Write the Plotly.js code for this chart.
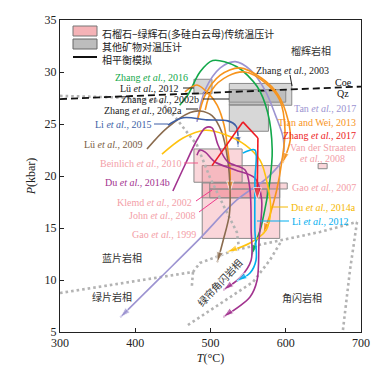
<!DOCTYPE html>
<html><head><meta charset="utf-8">
<script src="https://cdn.plot.ly/plotly-3.0.1.min.js"></script>
<style>html,body{margin:0;padding:0;background:#fff}#chart{width:385px;height:370px}</style>
</head><body><div id="chart"></div>
<script>
// ---------- data ----------
// garnet–omphacite (phengite) thermobarometry boxes [T min, T max, P min, P max]
const pinkNames = ['Gao 1999','Beinlich 2010','Klemd 2002','John 2008','Gao 2007','Van der Straaten 2008'];
const pinkTmin = [489, 478, 489, 499, 499, 643];
const pinkTmax = [592, 542, 592, 575, 602, 655];
const pinkPmin = [14.0, 19.4, 17.9, 17.9, 18.75, 20.7];
const pinkPmax = [21.0, 22.6, 19.33, 18.75, 19.33, 21.2];
// other mineral-pair thermobarometry boxes
const grayNames = ['Zhang 2003','Zhang 2002b','Zhang 2002a','Lü 2012'];
const grayTmin = [525, 525, 525, 478];
const grayTmax = [608, 600, 577, 502];
const grayPmin = [26.8, 27.1, 24.3, 27.9];
const grayPmax = [28.9, 28.3, 26.9, 29.3];

// phase-equilibrium P–T paths
const zhang2016_T = [459, 470, 486, 503, 535, 562, 576, 582, 579, 572, 566, 559, 555];
const zhang2016_P = [26.8, 27.8, 30.0, 31.1, 30.5, 28.6, 26.1, 22.5, 19.6, 16.7, 14.8, 13.4, 12.4];
const tan2017_T = [482, 493, 513, 533, 553, 572, 586, 597, 595, 575, 535, 486, 433, 380];
const tan2017_P = [25.2, 28.3, 30.4, 31.0, 30.2, 28.3, 25.9, 23.5, 21.5, 19.8, 17.7, 14.0, 10.2, 6.4];
const tianWeiA_T = [466, 482, 499, 509, 518, 523, 526, 526];
const tianWeiA_P = [28.1, 28.75, 27.8, 26.8, 24.9, 22.5, 20.6, 18.5];
const tianWeiB_T = [483, 493, 513, 539, 568, 590, 603, 606, 596];
const tianWeiB_P = [25.4, 27.8, 29.7, 30.4, 29.4, 27.8, 25.4, 23.5, 21.25];
const tianWeiC_T = [493, 502, 523, 546, 572, 592, 599, 595, 588, 579, 570];
const tianWeiC_P = [26.35, 28.3, 29.6, 30.0, 29.0, 27.3, 24.4, 21.5, 18.65, 16.25, 14.5];
const zhang2017_T = [502, 543, 563, 563, 562];
const zhang2017_P = [21.0, 25.2, 23.65, 20.1, 17.7];
const li2015_T = [443.5, 463.5, 495, 523, 534, 536.5, 536.5];
const li2015_P = [24.9, 25.6, 25.4, 25.3, 24.8, 23.9, 22.8];
const lu2009_T = [415.6, 442, 473, 486, 502, 515, 523, 526, 525, 517, 509];
const lu2009_P = [22.6, 24.6, 26.1, 26.25, 25.8, 24.2, 21.5, 18.65, 16.25, 13.85, 11.7];
const du2014a_T = [435.5, 463.5, 493, 519, 546, 566, 576, 580, 574, 552.5, 522];
const du2014a_P = [22.1, 23.65, 24.4, 24.0, 23.0, 21.5, 19.1, 16.7, 14.8, 13.56, 12.7];
const du2014bA_T = [450, 466, 482, 493, 502, 510, 523, 546, 552.5, 554, 554, 539, 517];
const du2014bA_P = [18.56, 21.06, 23.46, 24.62, 24.62, 22.98, 21.35, 20.58, 18.65, 14.8, 11.9, 10.2, 9.04];
const du2014bB_T = [482, 486, 493, 506, 533, 559, 568, 564.5, 562, 552.5, 517];
const du2014bB_P = [22.0, 22.5, 22.3, 21.35, 20.58, 19.8, 17.7, 13.85, 10.0, 8.37, 6.44];
const li2012_T = [543, 559, 559, 559, 560.5, 552.5, 535];
const li2012_P = [22.2, 22.5, 19.6, 14.8, 11.9, 10.67, 9.9];
// coesite = quartz
const coeQz_T = [300, 700];
const coeQz_P = [27.4, 28.6];
// metamorphic facies boundaries
const facies1_T = [300, 476.7];           const facies1_P = [8.75, 10.77];
const facies2_T = [476.7, 486, 532.6, 595, 645.5, 694.7]; const facies2_P = [10.77, 11.64, 12.89, 13.85, 14.62, 15.58];
const facies3_T = [300, 380, 433, 453, 482, 499, 517, 535, 538]; const facies3_P = [27.7, 27.55, 27.2, 25.67, 22.98, 19.9, 17.2, 14.6, 13.0];
const facies4_T = [476.7, 475];           const facies4_P = [10.77, 9.2];
const facies5_T = [470, 486, 556.5, 579, 595]; const facies5_P = [5.67, 6.44, 9.81, 11.92, 13.85];
const facies6_T = [694.7, 685.4, 676];    const facies6_P = [15.58, 10.96, 5.19];
// tick labels
const xTicks = [300, 400, 500, 600, 700];
const yTicks = [5, 10, 15, 20, 25, 30, 35];
// legend entries
const legendTexts = ['石榴石−绿辉石(多硅白云母)传统温压计', '其他矿物对温压计', '相平衡模拟'];

// ---------- helpers ----------
const SERIF = 'Liberation Serif, Times New Roman, Noto Sans CJK SC, serif';
const CJK = 'Noto Sans CJK SC, sans-serif';
const toX = px => 300 + (px - 60) * 400 / 301;
const toY = py => 35 - (py - 20) * 30 / 312;
const PINK_FILL = 'rgba(238,120,132,0.30)';
const GRAY_FILL = 'rgba(150,150,150,0.38)';
const BOX_LINE = '#8a8a8a';

const traces = [];
function box(t0, t1, p0, p1, fill) {
  traces.push({x: [t0, t1, t1, t0, t0], y: [p0, p0, p1, p1, p0], mode: 'lines', fill: 'toself',
    fillcolor: fill, line: {color: BOX_LINE, width: 1}, hoverinfo: 'skip', showlegend: false});
}
for (let i = 0; i < grayNames.length; i++) box(grayTmin[i], grayTmax[i], grayPmin[i], grayPmax[i], GRAY_FILL);
for (let i = 0; i < pinkNames.length; i++) box(pinkTmin[i], pinkTmax[i], pinkPmin[i], pinkPmax[i], PINK_FILL);

function facies(T, P) {
  traces.push({x: T, y: P, mode: 'lines', line: {color: '#b3b3b3', width: 2.6, dash: '2.6px,3px'},
    hoverinfo: 'skip', showlegend: false});
}
facies(facies1_T, facies1_P); facies(facies2_T, facies2_P); facies(facies3_T, facies3_P);
facies(facies4_T, facies4_P); facies(facies5_T, facies5_P); facies(facies6_T, facies6_P);

traces.push({x: coeQz_T, y: coeQz_P, mode: 'lines', line: {color: '#111', width: 1.8, dash: '7px,4px'},
  hoverinfo: 'skip', showlegend: false});

function path(T, P, color, shape, asize) {
  traces.push({x: T, y: P, mode: 'lines+markers',
    line: {color: color, width: 1.6, shape: shape || 'spline', smoothing: 0.9},
    marker: {symbol: 'arrow', angleref: 'previous', color: color,
      size: T.map((_, i) => i === T.length - 1 ? (asize || 11) : 0)},
    hoverinfo: 'skip', showlegend: false});
}
const C = {green: '#12a84a', lav: '#9c93d1', orange: '#f7941d', red: '#ed1c24', blue: '#3e5fa6',
  brown: '#8a6b4e', yellow: '#ffc20e', mag: '#a2338f', cyan: '#00aeef', pink: '#f3a0a8'};
path(tan2017_T, tan2017_P, C.lav);
path(zhang2016_T, zhang2016_P, C.green);
path(tianWeiA_T, tianWeiA_P, C.orange);
path(tianWeiB_T, tianWeiB_P, C.orange);
path(tianWeiC_T, tianWeiC_P, C.orange);
path(lu2009_T, lu2009_P, C.brown);
path(li2015_T, li2015_P, C.blue);
path(du2014a_T, du2014a_P, C.yellow);
path(du2014bA_T, du2014bA_P, C.mag);
path(du2014bB_T, du2014bB_P, C.mag);
path(li2012_T, li2012_P, C.cyan, 'spline');
path(zhang2017_T, zhang2017_P, C.red, 'linear', 13);

// ---------- annotations ----------
const ann = [];
function lab(text, px, py, anchor, color, size, font, angle) {
  ann.push({x: toX(px), y: toY(py), xref: 'x', yref: 'y', text: text, showarrow: false,
    xanchor: anchor, yanchor: 'middle', textangle: angle || 0,
    font: {family: font || SERIF, size: size || 10, color: color}});
}
const ea = '<i>et al.</i>';
lab('Zhang ' + ea + ', 2016', 190, 77, 'right', C.green);
lab('Lü ' + ea + ', 2012', 181, 88, 'right', '#222');
lab('Zhang ' + ea + ', 2002b', 201, 99, 'right', '#222');
lab('Zhang ' + ea + ', 2002a', 184, 110, 'right', '#222');
lab('Li ' + ea + ', 2015', 153, 124, 'right', C.blue);
lab('Lü ' + ea + ', 2009', 145, 144, 'right', '#7a5d43');
lab('Beinlich ' + ea + ', 2010', 183, 163, 'right', C.pink);
lab('Du ' + ea + ', 2014b', 172, 182, 'right', C.mag);
lab('Klemd ' + ea + ', 2002', 194, 202, 'right', C.pink);
lab('John ' + ea + ', 2008', 197, 215, 'right', C.pink);
lab('Gao ' + ea + ', 1999', 198, 234, 'right', C.pink);
lab('Zhang ' + ea + ', 2003', 254, 70, 'left', '#222');
lab('Coe', 343, 82, 'center', '#111');
lab('Qz', 343, 93, 'center', '#111');
lab('Tan ' + ea + ', 2017', 358, 108, 'right', C.lav);
lab('Tian and Wei, 2013', 358, 122, 'right', C.orange);
lab('Zhang ' + ea + ', 2017', 358, 135, 'right', C.red);
lab('Van der Straaten', 358, 147, 'right', C.pink);
lab(ea + ', 2008', 322, 158, 'center', C.pink);
lab('Gao ' + ea + ', 2007', 290, 187, 'left', C.pink);
lab('Du ' + ea + ', 2014a', 289, 207, 'left', '#f5b800');
lab('Li ' + ea + ', 2012', 290, 221, 'left', C.cyan);
// facies names
lab('榴辉岩相', 311, 50, 'center', '#333', 10, CJK);
lab('蓝片岩相', 122, 257, 'center', '#333', 10, CJK);
lab('绿片岩相', 112, 296, 'center', '#333', 10, CJK);
lab('绿帘角闪岩相', 219, 282, 'center', '#333', 10, CJK, -47);
lab('角闪岩相', 302, 297, 'center', '#333', 10, CJK);
// legend texts (one block, 13px line spacing)
ann.push({x: toX(100), y: toY(24), xref: 'x', yref: 'y', text: legendTexts.join('<br>'), showarrow: false,
  xanchor: 'left', yanchor: 'top', align: 'left', font: {family: CJK, size: 10, color: '#222'}});

// ---------- shapes (leaders, legend keys) ----------
const shapes = [];
function seg(x0, y0, x1, y1, color, w) {
  shapes.push({type: 'line', xref: 'x', yref: 'y', x0: toX(x0), y0: toY(y0), x1: toX(x1), y1: toY(y1),
    line: {color: color, width: w || 1}});
}
seg(183, 88, 194, 88, '#222');
seg(203, 99, 229, 99, '#222');
seg(186, 109, 198, 109, '#222');
seg(154, 124, 168, 124, C.blue);
seg(184, 163, 198, 163, '#ee5a8a');
seg(196, 201, 212, 190, '#ee3a8a');
seg(199, 212, 218, 198, '#ee3a8a');
seg(290, 75, 292, 86, '#222');
seg(271, 207, 288, 207, '#f5b800');
seg(257, 221, 289, 221, C.cyan);
// legend keys
shapes.push({type: 'rect', xref: 'x', yref: 'y', x0: toX(73), x1: toX(97), y0: toY(36), y1: toY(26),
  fillcolor: '#f5b3b7', line: {color: '#777', width: 1}});
shapes.push({type: 'rect', xref: 'x', yref: 'y', x0: toX(73), x1: toX(97), y0: toY(49), y1: toY(39),
  fillcolor: '#bdbdbd', line: {color: '#666', width: 1}});
seg(73, 57, 97, 57, '#111', 2);

const axisBase = {showgrid: false, zeroline: false, showline: true, linecolor: '#222', linewidth: 1,
  mirror: true, ticks: 'inside', ticklen: 4, tickcolor: '#222',
  tickfont: {family: SERIF, size: 12, color: '#222'}};

const layout = {
  width: 385, height: 370,
  margin: {l: 60, r: 24, t: 20, b: 38},
  paper_bgcolor: '#fff', plot_bgcolor: '#fff',
  showlegend: false,
  xaxis: Object.assign({}, axisBase, {range: [300, 700], tickvals: xTicks, ticktext: xTicks.map(String),
    title: {text: '<i>T</i>(°C)', font: {family: SERIF, size: 12, color: '#222'}, standoff: 4}}),
  yaxis: Object.assign({}, axisBase, {range: [5, 35], tickvals: yTicks, ticktext: yTicks.map(String),
    title: {text: '<i>P</i>(kbar)', font: {family: SERIF, size: 12, color: '#222'}, standoff: 6}}),
  annotations: ann,
  shapes: shapes
};
Plotly.newPlot('chart', traces, layout, {staticPlot: true, displayModeBar: false});
</script></body></html>
